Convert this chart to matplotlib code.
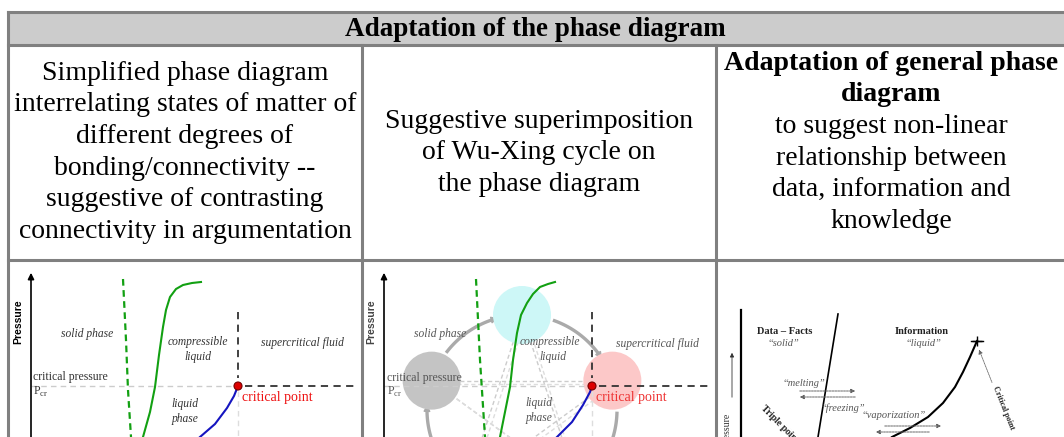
import numpy as np
import matplotlib.pyplot as plt
from matplotlib.patches import Rectangle, Circle

# ---- table text ----
titulo = "Adaptation of the phase diagram"
col1_lineas = ["Simplified phase diagram", "interrelating states of matter of",
               "different degrees of", "bonding/connectivity --",
               "suggestive of contrasting", "connectivity in argumentation"]
col2_lineas = ["Suggestive superimposition", "of Wu-Xing cycle on", "the phase diagram"]
col3_negrita = ["Adaptation of general phase", "diagram"]
col3_lineas = ["to suggest non-linear", "relationship between",
               "data, information and", "knowledge"]

# ---- diagram 1 (pixel coords) ----
d1_verde_discont = [(123, 279), (126, 340), (128, 390), (131, 437)]
d1_verde = [(143, 437), (150, 412), (155, 387), (159, 355), (163, 327),
            (166, 310), (170, 297), (176, 289), (183, 285), (192, 283), (201, 282)]
d1_azul = [(200, 437), (215, 424), (227, 408), (234, 396), (238, 386)]
d1_punto = (238, 386)

# ---- diagram 2 ----
d2_verde_discont = [(476, 279), (480, 360), (485, 437)]
d2_verde = [(500, 437), (505, 412), (510, 387), (513, 360), (517, 333),
            (521, 315), (527, 303), (533, 294), (540, 287), (548, 284), (555, 282)]
d2_azul = [(557, 437), (572, 422), (583, 405), (590, 392), (592, 386)]
d2_punto = (592, 386)
wx_centro = (522, 410)
wx_radio = 95
wx_colores = ["#cdf7f7", "#fcc8c8", "#d0d0d0", "#d0d0d0", "#c4c4c4"]

# ---- diagram 3 ----
d3_fusion = [(838, 314), (818, 437)]
d3_vapor = [(892, 437), (910, 428), (928, 417), (943, 403), (955, 387),
            (963, 372), (970, 357), (977, 341)]
d3_critico = (977, 341)

W, H = 1064, 437
fig = plt.figure(figsize=(W / 100, H / 100), dpi=100)
ax = fig.add_axes([0, 0, 1, 1])
ax.set_xlim(0, W)
ax.set_ylim(H, 0)
ax.axis('off')

serif = 'Liberation Serif'
gris = '#808080'

# header
ax.add_patch(Rectangle((8, 12), 1100, 33, facecolor='#cccccc', edgecolor='none', zorder=0))
ax.text(535, 29, titulo, family=serif, fontweight='bold', fontsize=19.5,
        ha='center', va='center')

# grid lines
ax.plot([8, 1100], [12, 12], color=gris, lw=2.2, zorder=6)
ax.plot([8, 1100], [45, 45], color=gris, lw=2.2, zorder=6)
ax.plot([8, 1100], [260, 260], color=gris, lw=2.2, zorder=6)
ax.plot([8, 8], [12, 440], color=gris, lw=2.2, zorder=6)
ax.plot([362, 362], [45, 440], color=gris, lw=2.2, zorder=6)
ax.plot([716, 716], [45, 440], color=gris, lw=2.2, zorder=6)

paso = 31.7
tam = 20
for i, s in enumerate(col1_lineas):
    ax.text(185, 73 + i * paso, s, family=serif, fontsize=tam, ha='center', va='center')
for i, s in enumerate(col2_lineas):
    ax.text(539, 121 + i * paso, s, family=serif, fontsize=tam, ha='center', va='center')
for i, s in enumerate(col3_negrita):
    ax.text(891, 63 + i * paso, s, family=serif, fontsize=tam, fontweight='bold',
            ha='center', va='center')
for i, s in enumerate(col3_lineas):
    ax.text(891, 63 + (i + 2) * paso, s, family=serif, fontsize=tam,
            ha='center', va='center')


def xy(puntos):
    a = np.array(puntos, dtype=float)
    return a[:, 0], a[:, 1]


def diagrama_fase(x0, verde_d, verde, azul, punto, tono):
    arts = []
    arts.append(ax.annotate('', xy=(x0, 270), xytext=(x0, 440),
                            arrowprops=dict(arrowstyle='-|>', color='black', lw=1.2,
                                            mutation_scale=9)))
    arts.append(ax.text(x0 - 13, 322, 'Pressure', family='Liberation Sans', fontweight='bold',
                        fontsize=7.5, rotation=90, ha='center', va='center', color=tono))
    px, py = punto
    arts += ax.plot([x0, px - 5], [py, py], color='#cccccc', lw=1, ls=(0, (4, 3)))
    arts += ax.plot([px, px], [py + 5, 440], color='#dddddd', lw=1, ls=(0, (4, 3)))
    arts += ax.plot([px, px], [312, py - 8], color='#333333', lw=1.3, ls=(0, (4, 3)))
    arts += ax.plot([px + 7, px + 117], [py, py], color='#333333', lw=1.3, ls=(0, (4, 3)))
    gx, gy = xy(verde_d)
    arts += ax.plot(gx, gy, color='#12a012', lw=1.6, ls=(0, (3, 2)))
    gx, gy = xy(verde)
    arts += ax.plot(gx, gy, color='#12a012', lw=1.5)
    bx, by = xy(azul)
    arts += ax.plot(bx, by, color='#1515c0', lw=1.5)
    arts.append(ax.add_patch(Circle(punto, 4, facecolor='#dd0000', edgecolor='#770000',
                                    lw=0.8, zorder=5)))
    return arts


# ---- diagram 1 ----
diagrama_fase(31, d1_verde_discont, d1_verde, d1_azul, d1_punto, 'black')
et = dict(family=serif, style='italic', fontsize=8.3, ha='center', va='center', color='#333333')
ax.text(87, 334, 'solid phase', **et)
ax.text(198, 342, 'compressible', **et)
ax.text(198, 357, 'liquid', **et)
ax.text(302, 343, 'supercritical fluid', **et)
ax.text(185, 404, 'liquid', **et)
ax.text(185, 419, 'phase', **et)
ax.text(33, 377, 'critical pressure', family=serif, fontsize=8.5, ha='left', va='center', color='#333333')
ax.text(33, 392, r'P$_{\mathregular{cr}}$', family=serif, fontsize=8.5, ha='left', va='center', color='#333333')
ax.text(242, 397, 'critical point', family=serif, fontsize=10, ha='left', va='center', color='#ee1111')

# ---- diagram 2: Wu-Xing cycle under the phase diagram ----
celda2 = Rectangle((363, 261), 352, 180, transform=ax.transData)
arts2 = []
cx, cy = wx_centro
ang = np.deg2rad(np.arange(5) * 72)
cent = [(cx + wx_radio * np.sin(a), cy - wx_radio * np.cos(a)) for a in ang]
for k in range(5):
    a0 = np.deg2rad(k * 72 + 20)
    a1 = np.deg2rad(k * 72 + 54)
    t = np.linspace(a0, a1, 30)
    arts2 += ax.plot(cx + wx_radio * np.sin(t), cy - wx_radio * np.cos(t),
                     color='#aaaaaa', lw=2.4, zorder=1)
    arts2.append(ax.annotate('', xy=(cx + wx_radio * np.sin(a1 + 0.09), cy - wx_radio * np.cos(a1 + 0.09)),
                             xytext=(cx + wx_radio * np.sin(a1), cy - wx_radio * np.cos(a1)),
                             arrowprops=dict(arrowstyle='-|>', color='#aaaaaa', lw=1,
                                             mutation_scale=10), zorder=1))
for k in range(5):
    p, q = cent[k], cent[(k + 2) % 5]
    arts2 += ax.plot([p[0], q[0]], [p[1], q[1]], color='#cccccc', lw=1, ls=(0, (3, 2)), zorder=1)
    arts2 += ax.plot([p[0] + 4, q[0] + 4], [p[1] + 3, q[1] + 3], color='#dddddd', lw=1,
                     ls=(0, (3, 2)), zorder=1)
for k, c in enumerate(cent):
    arts2.append(ax.add_patch(Circle(c, 29, facecolor=wx_colores[k], edgecolor='none', zorder=2)))

arts2 += diagrama_fase(384, d2_verde_discont, d2_verde, d2_azul, d2_punto, '#444444')
et2 = dict(et, color='#555555')
arts2.append(ax.text(440, 334, 'solid phase', **et2))
arts2.append(ax.text(550, 342, 'compressible', **et2))
arts2.append(ax.text(553, 357, 'liquid', **et2))
arts2.append(ax.text(657, 344, 'supercritical fluid', **et2))
arts2.append(ax.text(539, 403, 'liquid', **et2))
arts2.append(ax.text(539, 418, 'phase', **et2))
ax.text(387, 378, 'critical pressure', family=serif, fontsize=8.5, ha='left', va='center', color='#555555', zorder=6)
ax.text(387, 392, r'P$_{\mathregular{cr}}$', family=serif, fontsize=8.5, ha='left', va='center', color='#555555', zorder=6)
ax.text(596, 397, 'critical point', family=serif, fontsize=10, ha='left', va='center', color='#ee3333', zorder=6)
for a in arts2:
    a.set_clip_path(celda2)

# ---- diagram 3: data / information / knowledge ----
ax.plot([741, 741], [310, 440], color='black', lw=1.6)
ax.annotate('', xy=(732, 350), xytext=(732, 400),
            arrowprops=dict(arrowstyle='-|>', color='#333333', lw=0.6, mutation_scale=6))
ax.text(727, 413, 'Pressure', family=serif, fontsize=7, rotation=90, ha='center', va='top', color='#333333')
fx, fy = xy(d3_fusion)
ax.plot(fx, fy, color='black', lw=1.2)
vx, vy = xy(d3_vapor)
ax.plot(vx, vy, color='black', lw=1.5)
ax.plot(*d3_critico, marker='+', color='black', ms=7, mew=1)
ax.plot([d3_critico[0] - 6, d3_critico[0] + 6], [d3_critico[1], d3_critico[1]], color='black', lw=1)

neg = dict(family=serif, fontweight='bold', fontsize=7.5, ha='center', va='center', color='#222222')
cur = dict(family=serif, style='italic', fontsize=7.5, ha='center', va='center', color='#555555')
ax.text(785, 332, 'Data \u2013 Facts', **neg)
ax.text(783, 343, '\u201csolid\u201d', **cur)
ax.text(922, 332, 'Information', **neg)
ax.text(923, 343, '\u201cliquid\u201d', **cur)
ax.text(804, 384, '\u201cmelting\u201d', **cur)
ax.text(843, 408, '\u201cfreezing\u201d', **cur)
ax.text(894, 416, '\u201cvaporization\u201d', **cur)
flecha = dict(arrowstyle='-|>', color='#666666', lw=0.7, ls=(0, (2, 1)), mutation_scale=6)
ax.annotate('', xy=(858, 391), xytext=(797, 391), arrowprops=flecha)
ax.annotate('', xy=(797, 397), xytext=(858, 397), arrowprops=flecha)
ax.annotate('', xy=(944, 426), xytext=(882, 426), arrowprops=flecha)
ax.annotate('', xy=(873, 432), xytext=(932, 432), arrowprops=flecha)
ax.annotate('', xy=(978, 347), xytext=(993, 385),
            arrowprops=dict(arrowstyle='-|>', color='#666666', lw=0.6, ls=(0, (1, 1)), mutation_scale=6))
ax.text(762, 407, 'Triple point', family=serif, fontweight='bold', fontsize=7, rotation=-45,
        rotation_mode='anchor', ha='left', va='center', color='#222222')
ax.text(995, 387, 'Critical point', family=serif, fontweight='bold', fontsize=5.8, rotation=-68,
        rotation_mode='anchor', ha='left', va='center', color='#222222')

fig.savefig('out.png', dpi=100)
